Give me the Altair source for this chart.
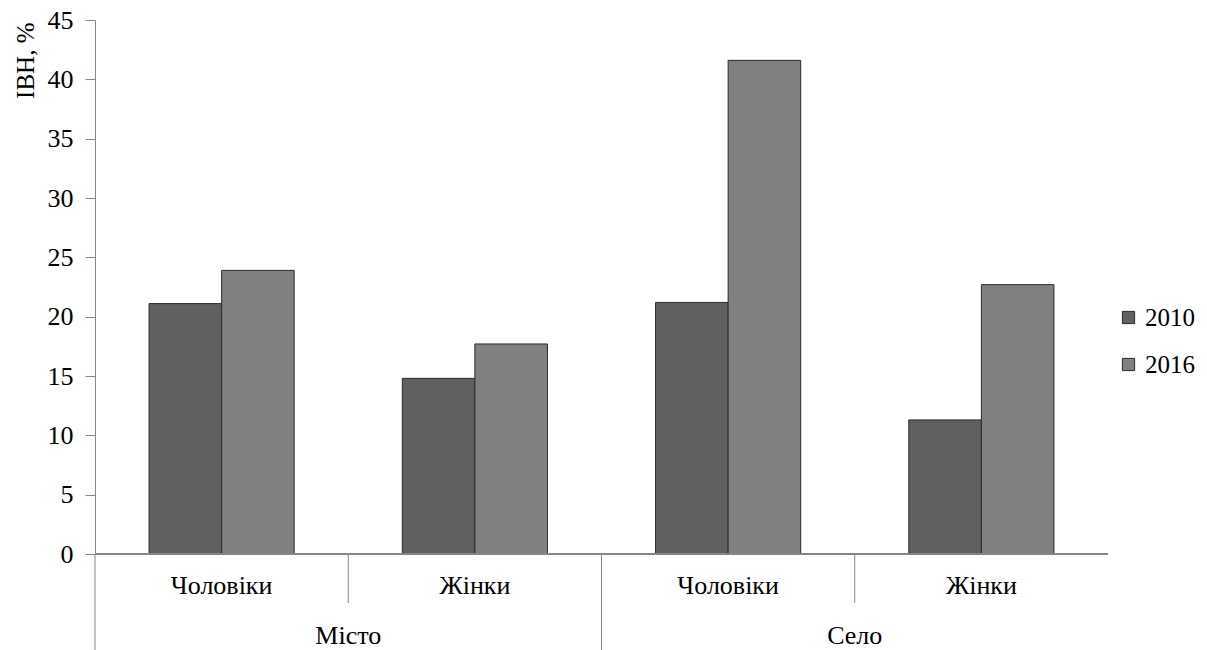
import altair as alt
import pandas as pd

# Index values (ІВН, %) by settlement type, sex and year
settlements = ["Місто", "Місто", "Село", "Село"]
sexes = ["Чоловіки", "Жінки", "Чоловіки", "Жінки"]
years = ["2010", "2016"]
ivn_2010 = [21.1, 14.8, 21.2, 11.3]
ivn_2016 = [23.9, 17.7, 41.6, 22.7]
y_ticks = [0, 5, 10, 15, 20, 25, 30, 35, 40, 45]
bar_colors = ["#606060", "#808080"]

W, H = 1013, 534
FONT = "Liberation Serif, Times New Roman, serif"
FS = 26
AXIS_GREY = "#868686"

keys = [f"{s}|{x}" for s, x in zip(settlements, sexes)]

bars_df = pd.DataFrame({
    "key": keys * 2,
    "year": [years[0]] * 4 + [years[1]] * 4,
    "value": ivn_2010 + ivn_2016,
})
cats_df = pd.DataFrame({"key": keys, "sex": sexes, "settlement": settlements})
# first category of each settlement group
group_df = cats_df.drop_duplicates("settlement")
inner_df = cats_df[~cats_df.index.isin(group_df.index)]

x_scale = alt.Scale(domain=keys, paddingInner=0, paddingOuter=0)

bars = alt.Chart(bars_df).mark_bar(stroke="#2a2a2a", strokeWidth=1).encode(
    x=alt.X("key:N", scale=x_scale, sort=keys, axis=None),
    xOffset=alt.XOffset("year:N", sort=years,
                        scale=alt.Scale(domain=years, paddingInner=0, paddingOuter=0.745)),
    y=alt.Y("value:Q",
            scale=alt.Scale(domain=[0, 45], nice=False),
            axis=alt.Axis(values=y_ticks, title="ІВН, %", grid=False,
                          labelFont=FONT, labelFontSize=FS, labelColor="black",
                          labelPadding=12, tickSize=10, tickColor=AXIS_GREY,
                          domainColor=AXIS_GREY,
                          titleFont=FONT, titleFontSize=25, titleFontWeight="normal",
                          titleColor="black", titleAngle=-90, titleAlign="right",
                          titleBaseline="alphabetic", titleX=-62, titleY=2)),
    color=alt.Color("year:N", sort=years,
                    scale=alt.Scale(domain=years, range=bar_colors),
                    legend=alt.Legend(title=None, orient="none", legendX=1021, legendY=285,
                                      symbolType="square", symbolSize=150,
                                      symbolStrokeColor="#2a2a2a", symbolStrokeWidth=1,
                                      labelFont=FONT, labelFontSize=25, labelColor="black",
                                      labelOffset=4, rowPadding=21)),
)

# horizontal baseline of the category axis
baseline = alt.Chart(bars_df).mark_rule(color=AXIS_GREY, strokeWidth=1).encode(
    y=alt.datum(0),
)

sex_labels = alt.Chart(cats_df).mark_text(
    font=FONT, fontSize=FS, color="black", baseline="middle"
).encode(
    x=alt.X("key:N", scale=x_scale, sort=keys, axis=None),
    y=alt.value(H + 32),
    text="sex:N",
)

group_labels = alt.Chart(group_df).mark_text(
    font=FONT, fontSize=FS, color="black", baseline="middle"
).encode(
    x=alt.X("key:N", scale=x_scale, sort=keys, axis=None, bandPosition=1),
    y=alt.value(H + 82),
    text="settlement:N",
)

long_rules = alt.Chart(group_df).mark_rule(color=AXIS_GREY, strokeWidth=1).encode(
    x=alt.X("key:N", scale=x_scale, sort=keys, axis=None, bandPosition=0),
    y=alt.value(H),
    y2=alt.value(H + 96),
)

short_rules = alt.Chart(inner_df).mark_rule(color=AXIS_GREY, strokeWidth=1).encode(
    x=alt.X("key:N", scale=x_scale, sort=keys, axis=None, bandPosition=0),
    y=alt.value(H),
    y2=alt.value(H + 49),
)

chart = alt.layer(bars, baseline, long_rules, short_rules, sex_labels, group_labels).properties(
    width=W,
    height=H,
    autosize=alt.AutoSizeParams(type="none"),
    padding={"left": 95, "top": 20, "right": 99, "bottom": 96},
    background="white",
).configure(
    font=FONT,
).configure_axis(
    labelFont=FONT, titleFont=FONT,
).configure_legend(
    labelFont=FONT,
).configure_view(stroke=None)

chart.save("out.html", embed_options={"renderer": "svg", "actions": False})
